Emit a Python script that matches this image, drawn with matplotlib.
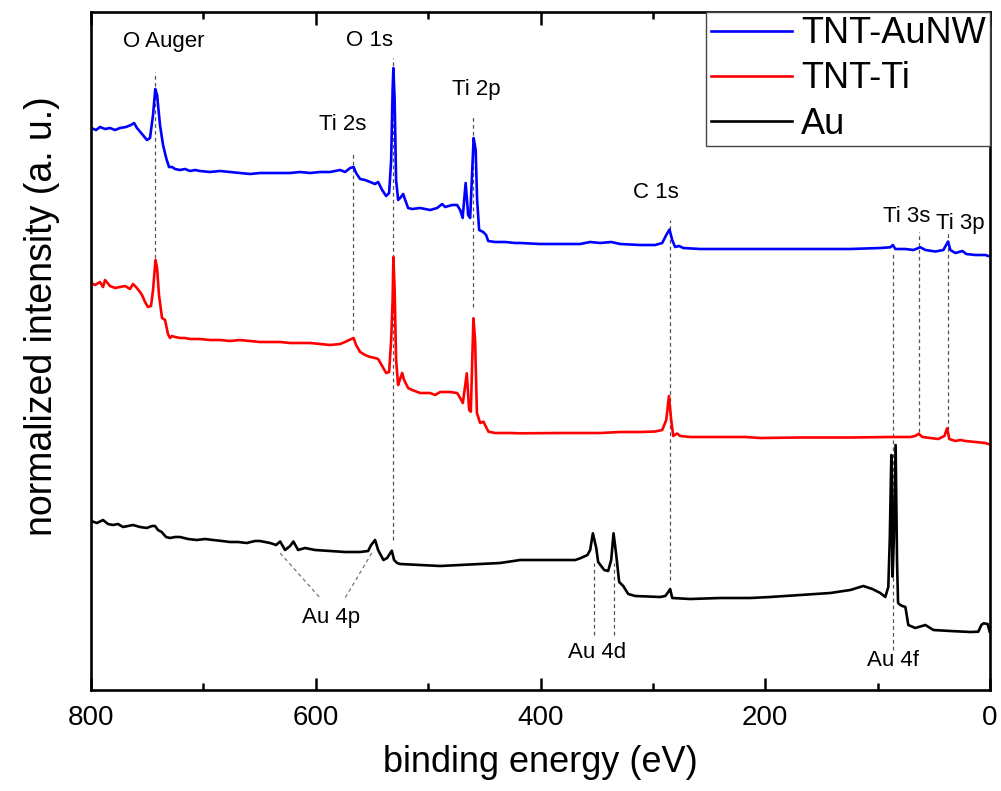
import numpy as np
import matplotlib
matplotlib.use("Agg")
import matplotlib.pyplot as plt
from matplotlib.ticker import MultipleLocator

plt.rcParams['font.family'] = ['Liberation Sans', 'DejaVu Sans']

# -------------------------------------------------------
# Spectra (binding energy in eV, offset intensity in a.u.)
# -------------------------------------------------------
aunw_e = [800, 795.5, 792.0, 787.5, 783.1, 778.6, 774.2, 768.8, 764.4, 761.7, 759.1, 754.6,
          750.2, 747.5, 744.8, 742.8, 741.2, 738.6, 735.9, 733.1, 730.6, 727.9, 725.2, 720.8,
          716.3, 711.9, 707.4, 703.0, 694.1, 685.2, 676.3, 667.4, 658.5, 649.6, 640.6, 631.7,
          622.8, 613.9, 605.0, 596.1, 587.2, 578.3, 573.9, 569.4, 566.3, 564.1, 560.5, 556.1,
          551.6, 547.2, 544.5, 540.9, 537.4, 534.7, 532.9, 531.6, 530.9, 529.8, 528.5, 526.7,
          524.9, 522.2, 520.4, 517.8, 514.2, 507.1, 498.2, 492.0, 487.5, 484.9, 478.6, 474.2,
          471.5, 469.3, 466.6, 464.4, 462.6, 459.5, 457.7, 456.4, 454.6, 451.0, 448.4, 446.6,
          440.3, 431.5, 422.5, 418.1, 400.3, 382.5, 364.7, 355.8, 346.9, 337.1, 329.1, 311.3,
          297.9, 291.7, 288.1, 285.2, 282.8, 280.2, 276.6, 273.0, 257.9, 213.4, 168.8, 124.3,
          97.6, 88.7, 86.5, 84.2, 75.3, 68.2, 62.0, 57.5, 48.6, 41.5, 37.3, 35.3, 30.8, 24.6,
          21.1, 13.0, 4.2, 0]
aunw_i = [562, 560, 563, 561, 562, 560, 562, 563, 565, 567, 562, 556,
          550, 552, 575, 601, 595, 565, 545, 532, 523, 523, 521, 520,
          521, 519, 520, 519, 518, 519, 518, 517, 516, 517, 517, 517,
          517, 518, 517, 518, 518, 520, 518, 522, 523, 517, 511, 510,
          508, 506, 508, 500, 494, 497, 530, 600, 622, 590, 510, 490,
          492, 496, 490, 482, 481, 482, 480, 482, 486, 483, 485, 485,
          480, 472, 507, 475, 472, 552, 540, 490, 460, 458, 455, 449,
          448, 448, 447, 447, 446, 446, 446, 448, 447, 448, 446, 445,
          445, 447, 455, 460.5, 450, 443, 444, 442, 441, 441, 441, 441,
          442, 442.7, 445, 441, 441, 440, 442.7, 440, 438.5, 440, 448.5, 440, 437, 439,
          436, 435, 435, 433.5]

ti_e = [800, 796.4, 792.0, 789.3, 787.5, 783.1, 778.6, 774.2, 769.7, 765.3, 762.6, 759.9,
        756.4, 754.6, 751.9, 749.3, 746.6, 744.8, 742.6, 741.2, 739.5, 736.8, 734.1, 731.5,
        729.7, 727.9, 725.2, 720.8, 716.3, 711.9, 703.0, 694.1, 685.2, 676.3, 667.4, 658.5,
        649.6, 640.6, 631.7, 622.8, 613.9, 605.0, 596.1, 587.2, 578.3, 573.9, 570.3, 566.3,
        564.1, 560.5, 556.1, 551.6, 547.2, 544.5, 540.9, 537.4, 534.7, 532.9, 531.6, 530.9,
        529.8, 528.5, 526.7, 524.9, 523.1, 521.4, 517.8, 514.2, 507.1, 498.2, 493.8, 489.3,
        480.4, 474.2, 471.5, 469.1, 465.6, 463.5, 462.0, 459.7, 458.2, 456.6, 453.7, 450.8,
        446.3, 440.3, 426.9, 418.1, 382.5, 346.9, 329.1, 311.3, 297.9, 291.7, 288.1, 285.7,
        283.7, 281.9, 278.4, 275.7, 266.8, 240.0, 217.8, 204.4, 168.8, 124.3, 88.7, 70.9,
        66.5, 63.5, 60.2, 53.1, 46.0, 40.6, 38.2, 36.2, 30.8, 26.4, 21.9, 13.0, 4.2, 0]
ti_i = [407, 405, 408, 403, 410, 404, 402, 403, 404, 401, 406, 403,
        398, 395, 388, 383, 384, 400, 430, 422, 395, 372, 370, 356,
        352, 354, 353, 352, 352, 351, 351, 350, 350, 349, 350, 349,
        348, 348, 348, 347, 347, 347, 346, 345, 346, 348, 350, 352,
        345, 338, 335, 333, 332, 331, 324, 317, 318, 350, 390, 433,
        400, 330, 305, 311, 317, 310, 302, 300, 297, 297, 295, 298,
        298, 297, 292, 287, 316.7, 280, 278.3, 371.7, 350, 277, 267, 268.3,
        258.3, 257, 257, 256.7, 257, 257, 258, 258, 258.5, 260, 270, 294,
        270, 254, 256.5, 254, 253, 253, 253, 252, 252.5, 252.5, 253, 253,
        254, 256.3, 253, 252, 251, 254, 261.7, 251, 249, 250, 249, 248, 247, 245.5]

au_e = [800, 794.7, 789.3, 784.9, 780.4, 776.0, 771.5, 767.1, 762.6, 756.4, 750.4, 745.7,
        743.0, 740.4, 737.1, 733.2, 729.7, 725.2, 720.8, 713.6, 705.9, 698.5, 691.4, 683.4,
        676.3, 669.2, 661.4, 654.0, 649.6, 640.6, 635.3, 631.7, 627.3, 622.8, 619.9, 615.7,
        609.5, 600.6, 587.2, 573.9, 560.5, 553.4, 550.7, 547.2, 544.5, 539.8, 536.5, 532.3,
        530.3, 527.6, 524.9, 507.1, 489.3, 471.5, 453.7, 435.9, 418.1, 400.3, 382.5, 369.1,
        364.7, 358.2, 355.8, 353.4, 350.4, 348.7, 343.3, 339.8, 337.1, 335.0, 332.6, 330.0,
        326.4, 321.9, 315.7, 293.4, 289.0, 286.3, 284.6, 282.8, 266.8, 240.0, 213.4, 195.6,
        168.8, 142.1, 124.3, 112.7, 104.7, 97.6, 93.2, 90.5, 89.2, 87.8, 86.7, 85.6,
        84.0, 82.7, 81.8, 79.8, 78.0, 75.3, 72.7, 66.5, 57.5, 50.4, 35.3, 17.5,
        10.4, 7.7, 5.7, 2.1, 0.3]
au_i = [169, 167, 170, 166, 165, 166, 163, 164, 165, 163, 162, 164,
        164, 160, 158, 153, 152, 153, 153, 151, 150, 151, 150, 149,
        148, 148, 147, 149, 149, 147, 145, 148.5, 140, 144, 148.5, 140,
        142, 140, 139, 138, 138, 139, 145, 150, 140, 130, 132, 139.3,
        130, 127, 126, 125, 124, 125, 126, 127, 130, 130, 130, 130,
        131.7, 135, 140, 156.7, 142, 128, 120, 119, 130, 156.7, 135, 108,
        104, 96, 94, 93, 94, 98, 101, 92, 91, 92, 92, 93,
        95, 97, 100, 104, 101, 97, 93, 103, 150, 235, 113.3, 150,
        245, 127, 87, 85, 84, 83, 65, 62, 65, 60, 59, 58,
        58.3, 65, 66.7, 66, 58.3]

series_names = ['TNT-AuNW', 'TNT-Ti', 'Au']
series_colors = ['#0000ff', '#ff0000', '#000000']

# -------------------------------------------------------
# Peak markers: energy, top and bottom of the dashed guide
# -------------------------------------------------------
guide_e = [742.8, 531.4, 566.5, 460.5, 285.2, 63.2, 37.3, 86.7, 352.8, 335.0]
guide_top = [618, 632, 537, 573, 470, 458, 459, 438, 127, 127]
guide_bot = [432, 150, 360, 383, 110, 258, 260, 40, 55, 55]

au4p_e = [[631.7, 596.1], [550.1, 573.9]]
au4p_i = [[137, 92], [137, 92]]

label_text = ['O Auger', 'O 1s', 'Ti 2s', 'Ti 2p', 'C 1s', 'Ti 3s', 'Ti 3p',
              'Au 4p', 'Au 4d', 'Au 4f']
label_e = [735, 552.5, 575.6, 457.3, 297, 74.4, 26.4, 586.4, 349.5, 86.5]
label_i = [648, 649, 565, 601, 498, 473, 467, 73, 37, 30]

# -------------------------------------------------------
# Plot
# -------------------------------------------------------
fig = plt.figure(figsize=(10.01, 7.91), dpi=100)
ax = fig.add_axes([91 / 1001, 1 - 690 / 791, 899 / 1001, 678 / 791])

for xs, ys, name, col in zip([aunw_e, ti_e, au_e], [aunw_i, ti_i, au_i],
                             series_names, series_colors):
    ax.plot(xs, ys, color=col, lw=1.9, label=name)

for e, t, b in zip(guide_e, guide_top, guide_bot):
    ax.plot([e, e], [b, t], color='#555555', lw=0.9, ls=(0, (3, 2.5)), zorder=0)
for xs, ys in zip(au4p_e, au4p_i):
    ax.plot(xs, ys, color='#777777', lw=0.9, ls=(0, (3, 2.5)), zorder=0)

for txt, e, i in zip(label_text, label_e, label_i):
    ax.text(e, i, txt, fontsize=16, ha='center', va='center')

ax.set_xlim(800, 0)
ax.set_ylim(0, 678)
ax.set_yticks([])
ax.xaxis.set_major_locator(MultipleLocator(200))
ax.xaxis.set_minor_locator(MultipleLocator(100))
ax.tick_params(axis='x', which='both', direction='in', top=True, width=1.8,
               labelsize=20, pad=11)
ax.tick_params(axis='x', which='major', length=9)
ax.tick_params(axis='x', which='minor', length=5)
for sp in ax.spines.values():
    sp.set_linewidth(1.9)

ax.set_xlabel('binding energy (eV)', fontsize=26, labelpad=10)
ax.set_ylabel('normalized intensity (a. u.)', fontsize=27)
ax.yaxis.set_label_coords(-0.034, 0.552)

leg = ax.legend(loc='upper right', fontsize=26, frameon=True, fancybox=False,
                framealpha=1, edgecolor='#444444', borderaxespad=0,
                borderpad=0.12, labelspacing=0.28, handlelength=2.25,
                handletextpad=0.25)
leg.get_frame().set_linewidth(1.0)

fig.savefig('out.png', dpi=100)
